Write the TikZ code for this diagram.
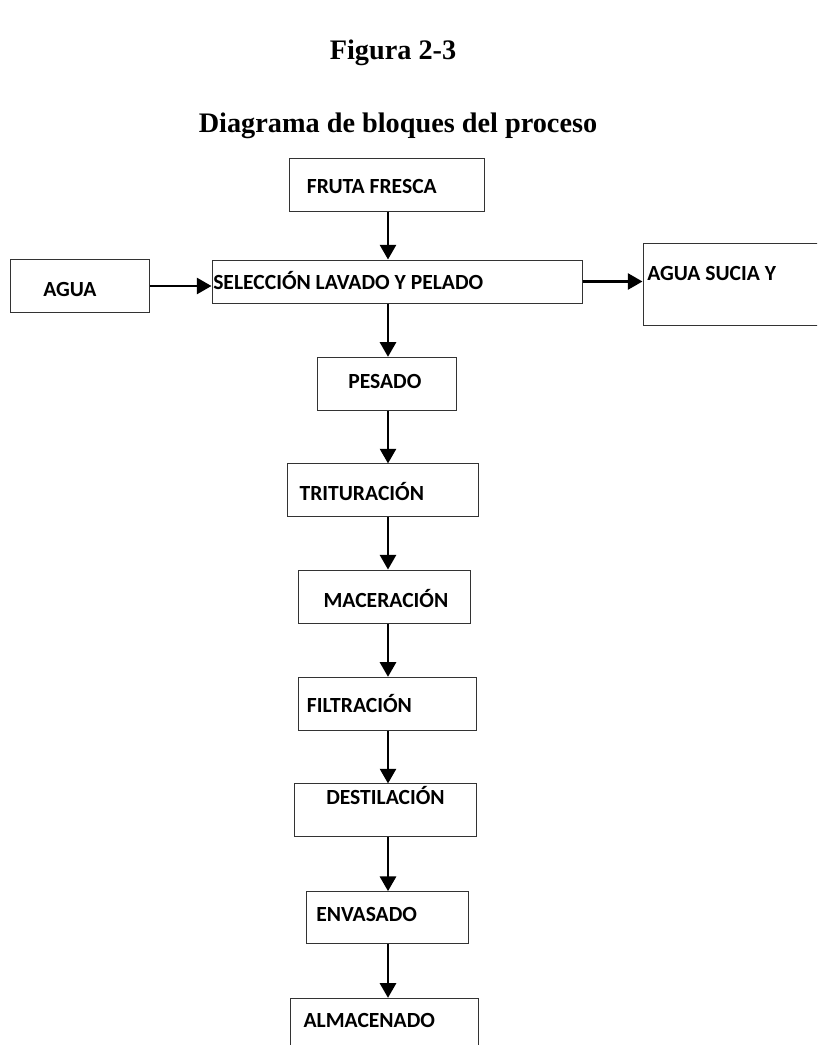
\documentclass[tikz,border=0pt]{standalone}
\usepackage{fontspec}
\usepackage{tikz}
\usetikzlibrary{
  arrows.meta,
  positioning
}
\newfontfamily\cajafont{Carlito}
\newfontfamily\titulofont{Liberation Serif}
\tikzset{
  bloque/.style={draw=black!80,line width=0.75pt,inner sep=0pt},
  caja/.style 2 args={bloque,minimum width=#1*0.75pt,minimum height=#2*0.75pt},
  rotulo/.style={font=\cajafont\bfseries\fontsize{16.2}{19}\selectfont,inner sep=0pt,anchor=base west},
  titulo/.style={font=\titulofont\bfseries\fontsize{21.2}{25}\selectfont,inner sep=0pt,anchor=base},
  flecha/.style={line width=2pt,-{Triangle[length=11pt,width=12pt]}},
}

\begin{document}
\begin{tikzpicture}[x=0.75pt,y=-0.75pt]
\clip (0,0) rectangle (817,1045);
\coordinate (eje) at (388,0);
% titulos
\node[titulo] (figura) at (393,60) {Figura 2-3};
\node[titulo] (subtitulo) at (398,133) {Diagrama de bloques del proceso};
% bloques
\node[caja={194.7}{52.7}] (fruta) at (386.7,184.7) {};
\node[caja={370}{43}] (seleccion) at (397,281.5) {};
\node[caja={139.3}{53.4}] (agua) at (80.3,286) {};
\node[caja={197}{81.7}] (sucia) at (741.5,284.2) {};
\node[caja={139}{52.7}] (pesado) at (387.2,383.7) {};
\node[caja={191}{52.7}] (trituracion) at (382.8,490.3) {};
\node[caja={171.7}{53.3}] (maceracion) at (384.2,596.7) {};
\node[caja={177.7}{52.7}] (filtracion) at (387.2,703.7) {};
\node[caja={182}{52.7}] (destilacion) at (385,810.3) {};
\node[caja={162.3}{52.3}] (envasado) at (387.2,917.8) {};
\node[caja={188}{52.7}] (almacenado) at (384,1024.7) {};
% textos
\node[rotulo] (t-fruta) at (306.7,194) {FRUTA FRESCA};
\node[rotulo] (t-seleccion) at (213,289) {SELECCIÓN LAVADO Y PELADO};
\node[rotulo] (t-agua) at (43,296) {AGUA};
\node[rotulo] (t-sucia) at (647,280) {AGUA SUCIA Y};
\node[rotulo] (t-pesado) at (348,388.3) {PESADO};
\node[rotulo] (t-trituracion) at (299.3,500.7) {TRITURACIÓN};
\node[rotulo] (t-maceracion) at (323.3,607.3) {MACERACIÓN};
\node[rotulo] (t-filtracion) at (306.7,712) {FILTRACIÓN};
\node[rotulo] (t-destilacion) at (326,804) {DESTILACIÓN};
\node[rotulo] (t-envasado) at (316,921.7) {ENVASADO};
\node[rotulo] (t-almacenado) at (303.3,1027.3) {ALMACENADO};
% flechas
\draw[flecha] (fruta.south -| eje) -- (seleccion.north -| eje);
\draw[flecha] (agua.east) -- (seleccion.west |- agua.east);
\draw[flecha] (seleccion.east) -- (sucia.west |- seleccion.east);
\draw[flecha] (seleccion.south -| eje) -- (pesado.north -| eje);
\draw[flecha] (pesado.south -| eje) -- (trituracion.north -| eje);
\draw[flecha] (trituracion.south -| eje) -- (maceracion.north -| eje);
\draw[flecha] (maceracion.south -| eje) -- (filtracion.north -| eje);
\draw[flecha] (filtracion.south -| eje) -- (destilacion.north -| eje);
\draw[flecha] (destilacion.south -| eje) -- (envasado.north -| eje);
\draw[flecha] (envasado.south -| eje) -- (almacenado.north -| eje);
\end{tikzpicture}
\end{document}
